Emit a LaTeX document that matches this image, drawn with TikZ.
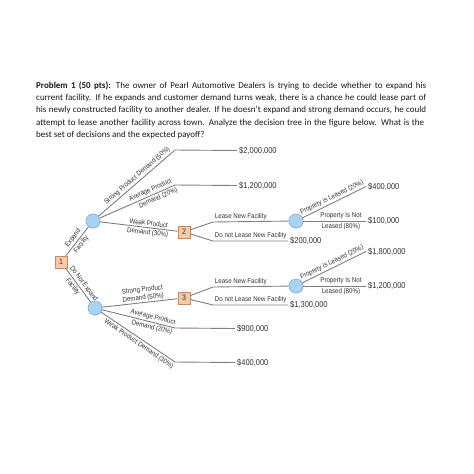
\documentclass[tikz,border=0pt]{standalone}
\usepackage{fontspec}
\setmainfont{Carlito}
\newfontfamily\narrowfont[FakeStretch=0.88]{Liberation Sans}
\usetikzlibrary{shadows}
\definecolor{boxfill}{HTML}{F8C9A6}
\definecolor{boxdraw}{HTML}{C98A62}
\definecolor{circfill}{HTML}{AAD3F3}
\definecolor{circdraw}{HTML}{86B5DD}
\definecolor{edgegray}{HTML}{808080}
\definecolor{txt}{HTML}{333333}
\begin{document}
\begin{tikzpicture}[x=1pt,y=-1pt,
  decbox/.style={rectangle, draw=boxdraw, fill=boxfill, line width=0.7pt, minimum size=12pt, inner sep=0pt,
    font=\narrowfont\fontsize{8}{9}\selectfont, text=txt,
    drop shadow={opacity=0.2, shadow xshift=0.8pt, shadow yshift=-0.8pt}},
  chance/.style={circle, draw=circdraw, fill=circfill, line width=0.7pt, minimum size=14pt, inner sep=0pt,
    drop shadow={opacity=0.2, shadow xshift=0.8pt, shadow yshift=-0.8pt}},
  edge/.style={draw=edgegray, line width=0.9pt},
  lbl/.style={font=\narrowfont\fontsize{7}{8}\selectfont, text=txt, inner sep=1.5pt},
  money/.style={font=\narrowfont\fontsize{8.5}{9}\selectfont, text=txt, anchor=west, inner sep=2pt},
  titleline/.style={anchor=base west, inner sep=0pt, font=\fontsize{9}{11}\selectfont, text=black!90}
]
\useasboundingbox (0,0) rectangle (474,474);
\fill[white] (0,0) rectangle (474,474);

% title
\node[titleline] (t1) at (36,88.7) {\makebox[390pt][s]{\textbf{Problem 1 (50 pts):} The owner of Pearl Automotive Dealers is trying to decide whether to expand his}};
\node[titleline] (t2) at (36,100.8) {\makebox[390pt][s]{current facility. If he expands and customer demand turns weak, there is a chance he could lease part of}};
\node[titleline] (t3) at (36,112.9) {\makebox[390pt][s]{his newly constructed facility to another dealer. If he doesn't expand and strong demand occurs, he could}};
\node[titleline] (t4) at (36,125.0) {\makebox[388pt][s]{attempt to lease another facility across town. Analyze the decision tree in the figure below. What is the}};
\node[titleline] (t5) at (36,137.1) {best set of decisions and the expected payoff?};

% nodes
\node[decbox] (b1) at (61,262) {1};
\node[chance] (c1) at (93,221) {};
\node[chance] (c2) at (95,308) {};
\node[decbox] (b2) at (184,232) {2};
\node[decbox] (b3) at (184,298) {3};
\node[chance] (c3) at (296,221) {};
\node[chance] (c4) at (296,286) {};

\coordinate (k1) at (175,150);
\coordinate (k2) at (175,185);
\coordinate (k3) at (213,222);
\coordinate (k4) at (213,241);
\coordinate (k6) at (213,287);
\coordinate (k7) at (213,305);
\coordinate (k9) at (175,328);
\coordinate (k10) at (175,362);

\node[money] (m1) at (237,150.5) {\$2,000,000};
\node[money] (m2) at (237,185.5) {\$1,200,000};
\node[money] (m3) at (366,186.5) {\$400,000};
\node[money] (m4) at (366,221) {\$100,000};
\node[money] (m5) at (288,241) {\$200,000};
\node[money] (m6) at (366,251.5) {\$1,800,000};
\node[money] (m7) at (366,286) {\$1,200,000};
\node[money] (m8) at (288,305) {\$1,300,000};
\node[money] (m9) at (235,328.5) {\$900,000};
\node[money] (m10) at (235,362.5) {\$400,000};

% edges
\draw[edge] (b1) -- node[lbl,sloped,above]{Expand} node[lbl,sloped,below]{Facility} (c1);
\draw[edge] (b1) -- node[lbl,sloped,above,pos=0.55]{Do Not Expand} node[lbl,sloped,below,pos=0.45]{Facility} (c2);

\draw[edge] (c1) -- node[lbl,sloped,above,pos=0.55]{Strong Product Demand (50\%)} (k1) -- (m1.west);
\draw[edge] (c1) -- node[lbl,sloped,above,pos=0.7]{Average Product} node[lbl,sloped,below,pos=0.75]{Demand (20\%)} (k2) -- (m2.west);
\draw[edge] (c1) -- node[lbl,sloped,above,pos=0.62]{Weak Product} node[lbl,sloped,below,pos=0.62]{Demand (30\%)} (b2);

\draw[edge] (b2) -- (k3) -- node[lbl,anchor=south west,pos=0]{Lease New Facility} (c3);
\draw[edge] (b2) -- (k4) -- node[lbl,anchor=south west,pos=0]{Do not Lease New Facility} (m5.west);
\draw[edge] (c3) -- node[lbl,sloped,above,pos=0.5]{Property is Leased (20\%)} (m3.west);
\draw[edge] (c3) -- node[lbl,above,pos=0.6]{Property Is Not} node[lbl,below,pos=0.6]{Leased (80\%)} (m4.west);

\draw[edge] (c2) -- node[lbl,sloped,above,pos=0.55,align=center,inner sep=0.8pt]{Strong Product\\Demand (50\%)} (b3);
\draw[edge] (c2) -- node[lbl,sloped,above,pos=0.68]{Average Product} node[lbl,sloped,below,pos=0.7]{Demand (20\%)} (k9) -- (m9.west);
\draw[edge] (c2) -- node[lbl,sloped,below,pos=0.55]{Weak Product Demand (30\%)} (k10) -- (m10.west);

\draw[edge] (b3) -- (k6) -- node[lbl,anchor=south west,pos=0]{Lease New Facility} (c4);
\draw[edge] (b3) -- (k7) -- node[lbl,anchor=south west,pos=0]{Do not Lease New Facility} (m8.west);
\draw[edge] (c4) -- node[lbl,sloped,above,pos=0.5]{Property is Leased (20\%)} (m6.west);
\draw[edge] (c4) -- node[lbl,above,pos=0.6]{Property Is Not} node[lbl,below,pos=0.6]{Leased (80\%)} (m7.west);
\end{tikzpicture}
\end{document}
